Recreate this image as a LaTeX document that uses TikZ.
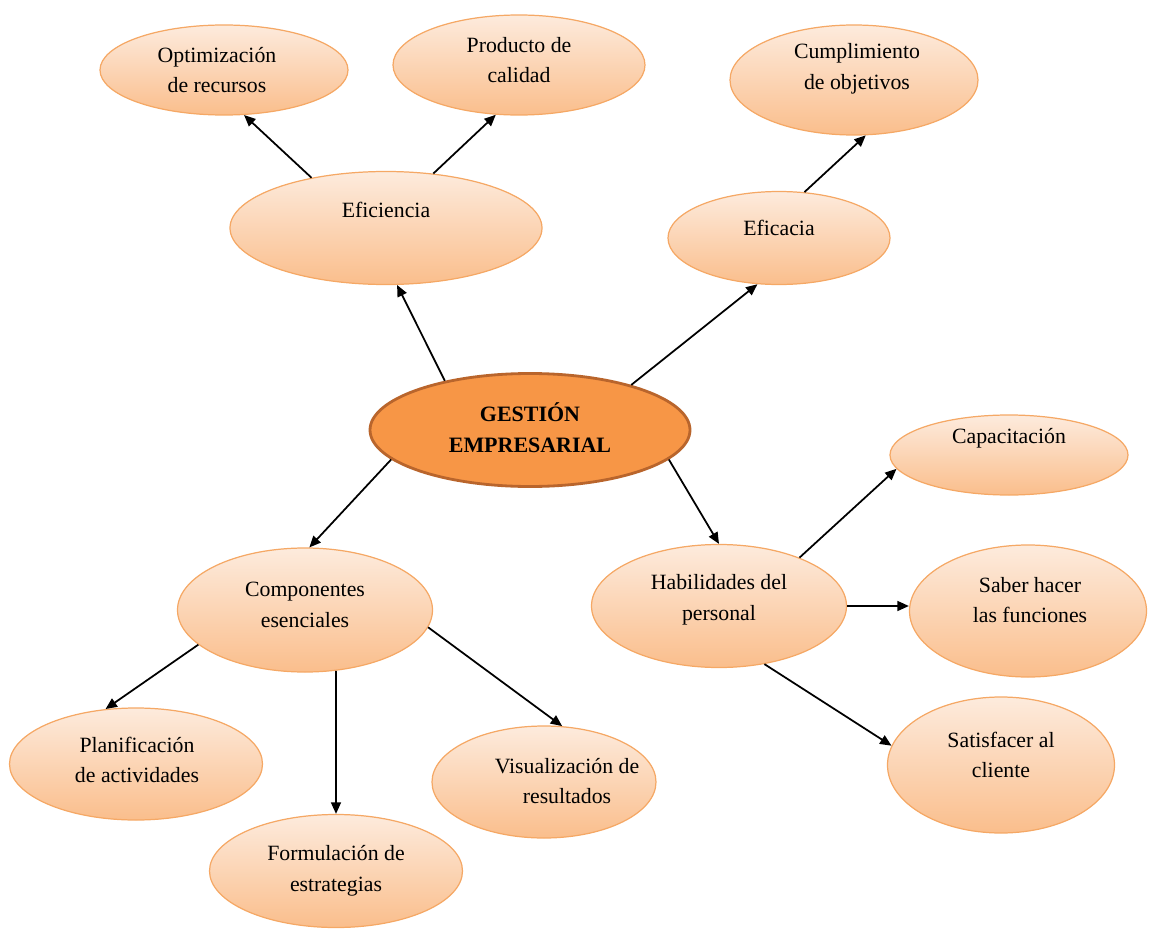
\documentclass[tikz,border=0pt]{standalone}
\usepackage{fontspec}
\setmainfont{Liberation Serif}
\usetikzlibrary{arrows.meta,shapes.geometric}
\definecolor{PeachTop}{HTML}{FDEBDD}
\definecolor{PeachBot}{HTML}{FABE8C}
\definecolor{PeachLine}{HTML}{F5A865}
\definecolor{Hub}{HTML}{F79646}
\definecolor{HubLine}{HTML}{B9652C}

\begin{document}
\begin{tikzpicture}[x=.02cm,y=-.02cm,
    bubble/.style={ellipse,draw=PeachLine,line width=.7pt,top color=PeachTop,bottom color=PeachBot,inner sep=0pt},
    hub/.style={ellipse,draw=HubLine,line width=1.6pt,fill=Hub,inner sep=0pt},
    txt/.style={align=center,font=\fontsize{12.4}{17.5}\selectfont},
    arr/.style={-{Triangle[length=6.5pt,width=5.6pt]},line width=1pt}]
        \useasboundingbox (0,0) rectangle (1157,933);
        % ellipses
        \node[hub,minimum width=320*.02cm,minimum height=113*.02cm] (ge) at (530,430) {};
        \node[bubble,minimum width=312*.02cm,minimum height=113*.02cm] (efi) at (386,228) {};
        \node[bubble,minimum width=222*.02cm,minimum height=93*.02cm] (efa) at (779,238) {};
        \node[bubble,minimum width=248*.02cm,minimum height=90*.02cm] (opt) at (224,70) {};
        \node[bubble,minimum width=252*.02cm,minimum height=100*.02cm] (pro) at (519,65) {};
        \node[bubble,minimum width=248*.02cm,minimum height=110*.02cm] (cum) at (854,80) {};
        \node[bubble,minimum width=255*.02cm,minimum height=124*.02cm] (com) at (305,610) {};
        \node[bubble,minimum width=255*.02cm,minimum height=123*.02cm] (hab) at (719,606) {};
        \node[bubble,minimum width=238*.02cm,minimum height=80*.02cm] (cap) at (1009,455) {};
        \node[bubble,minimum width=237*.02cm,minimum height=132*.02cm] (sab) at (1028,611) {};
        \node[bubble,minimum width=227*.02cm,minimum height=136*.02cm] (sat) at (1001,765) {};
        \node[bubble,minimum width=253*.02cm,minimum height=112*.02cm] (pla) at (136,764) {};
        \node[bubble,minimum width=224*.02cm,minimum height=112*.02cm] (vis) at (544,782) {};
        \node[bubble,minimum width=253*.02cm,minimum height=113*.02cm] (for) at (336,871) {};
        % texts
        \node[txt,font=\fontsize{12.5}{17.5}\selectfont\bfseries] (ge-t) at (530,428) {GESTIÓN\\EMPRESARIAL};
        \node[txt] (efi-t) at (386,210) {Eficiencia};
        \node[txt] (efa-t) at (779,228) {Eficacia};
        \node[txt] (opt-t) at (217,70) {Optimización\\de recursos};
        \node[txt] (pro-t) at (519,60) {Producto de\\calidad};
        \node[txt] (cum-t) at (857,69) {Cumplimiento\\de objetivos};
        \node[txt] (com-t) at (305,605) {Componentes\\esenciales};
        \node[txt] (hab-t) at (719,600) {Habilidades del\\personal};
        \node[txt] (cap-t) at (1009,438) {Capacitación};
        \node[txt] (sab-t) at (1030,600) {Saber hacer\\las funciones};
        \node[txt] (sat-t) at (1001,755) {Satisfacer al\\cliente};
        \node[txt] (pla-t) at (137,760) {Planificación\\de actividades};
        \node[txt] (vis-t) at (567,781) {Visualización de\\resultados};
        \node[txt] (for-t) at (336,871) {Formulación de\\estrategias};
        % connectors
        \draw[arr] (ge.150) -- (efi.281);
        \draw[arr] (ge.24) -- (efa.245);
        \draw[arr] (ge.192) -- (com.86);
        \draw[arr] (ge.348) -- (hab.90);
        \draw[arr] (efi.146) -- (opt.294);
        \draw[arr] (efi.49) -- (pro.245);
        \draw[arr] (efa.61) -- (cum.282);
        \draw[arr] (hab.31) -- (cap.187);
        \draw[arr] (hab.east) -- (hab.east -| sab.west);
        \draw[arr] (hab.308) -- (sat.170);
        \draw[arr] (com.198) -- (pla.119);
        \draw[arr] (com.297) -- (for.90);
        \draw[arr] (com.352) -- (vis.72);
      \end{tikzpicture}
\end{document}
